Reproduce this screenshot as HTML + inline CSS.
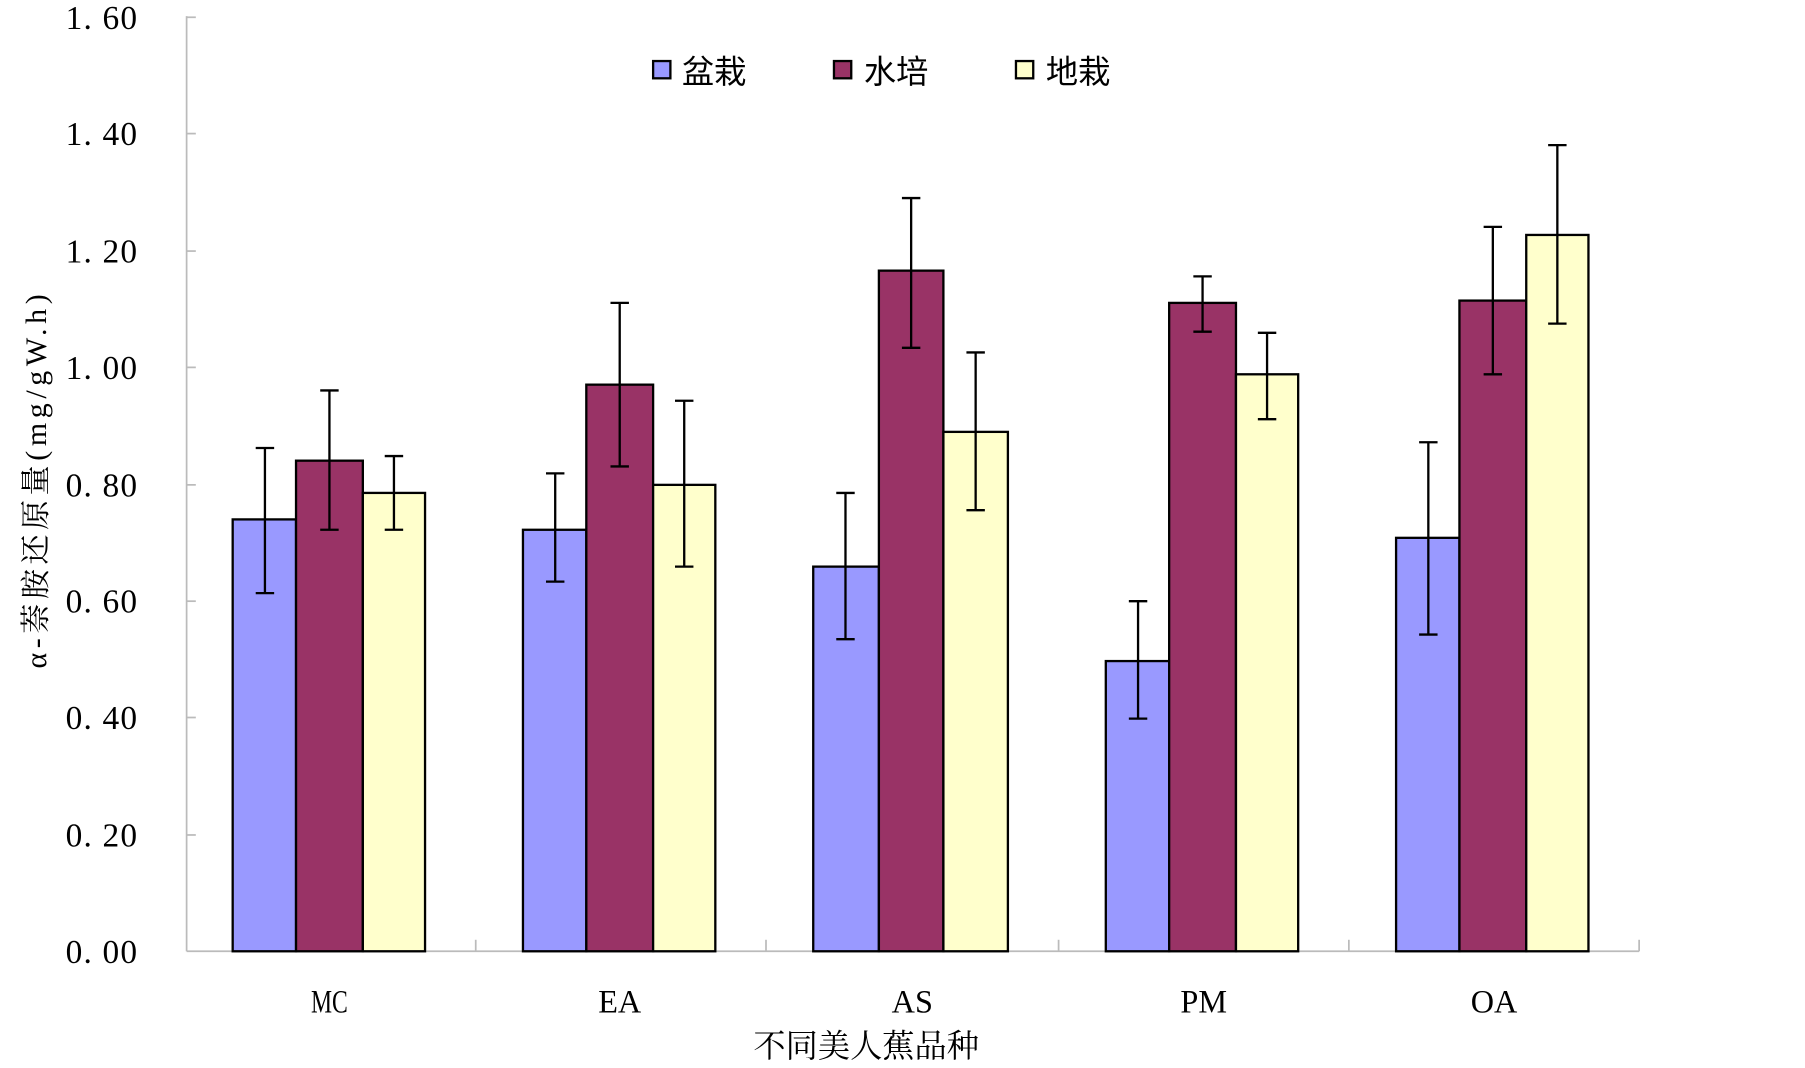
<!DOCTYPE html>
<html><head><meta charset="utf-8"><style>html,body{margin:0;padding:0;background:#fff;overflow:hidden}</style></head>
<body>
<svg width="1805" height="1063" viewBox="0 0 1567 923" preserveAspectRatio="none" xmlns="http://www.w3.org/2000/svg" font-family="'Liberation Serif','Noto Serif CJK SC',serif">
<g stroke="#bbb" stroke-width="1.5" fill="none">
<line x1="162" y1="14" x2="162" y2="826"/>
<line x1="162" y1="826" x2="1423" y2="826"/>
<line x1="162" y1="15" x2="170" y2="15"/><line x1="162" y1="116" x2="170" y2="116"/><line x1="162" y1="218" x2="170" y2="218"/><line x1="162" y1="319" x2="170" y2="319"/><line x1="162" y1="421" x2="170" y2="421"/><line x1="162" y1="522" x2="170" y2="522"/><line x1="162" y1="623" x2="170" y2="623"/><line x1="162" y1="725" x2="170" y2="725"/>
<line x1="413" y1="816" x2="413" y2="826"/><line x1="665" y1="816" x2="665" y2="826"/><line x1="919" y1="816" x2="919" y2="826"/><line x1="1171" y1="816" x2="1171" y2="826"/><line x1="1423" y1="816" x2="1423" y2="826"/>
</g>
<g font-size="29" text-anchor="end" fill="#000" letter-spacing="1">
<text x="120" y="25">1. 60</text><text x="120" y="126">1. 40</text><text x="120" y="228">1. 20</text><text x="120" y="329">1. 00</text><text x="120" y="431">0. 80</text><text x="120" y="532">0. 60</text><text x="120" y="633">0. 40</text><text x="120" y="735">0. 20</text><text x="120" y="836">0. 00</text>
</g>
<g stroke="#000" stroke-width="2">
<rect x="202" y="451" width="55" height="375" fill="#9999FF"/><rect x="257" y="400" width="58" height="426" fill="#993366"/><rect x="315" y="428" width="54" height="398" fill="#FFFFCC"/>
<rect x="454" y="460" width="55" height="366" fill="#9999FF"/><rect x="509" y="334" width="58" height="492" fill="#993366"/><rect x="567" y="421" width="54" height="405" fill="#FFFFCC"/>
<rect x="706" y="492" width="57" height="334" fill="#9999FF"/><rect x="763" y="235" width="56" height="591" fill="#993366"/><rect x="819" y="375" width="56" height="451" fill="#FFFFCC"/>
<rect x="960" y="574" width="55" height="252" fill="#9999FF"/><rect x="1015" y="263" width="58" height="563" fill="#993366"/><rect x="1073" y="325" width="54" height="501" fill="#FFFFCC"/>
<rect x="1212" y="467" width="55" height="359" fill="#9999FF"/><rect x="1267" y="261" width="58" height="565" fill="#993366"/><rect x="1325" y="204" width="54" height="622" fill="#FFFFCC"/>
</g>
<g stroke="#000" stroke-width="2" fill="none">
<path d="M230 389V515M222 389H238M222 515H238"/>
<path d="M286 339V460M278 339H294M278 460H294"/>
<path d="M342 396V460M334 396H350M334 460H350"/>
<path d="M482 411V505M474 411H490M474 505H490"/>
<path d="M538 263V405M530 263H546M530 405H546"/>
<path d="M594 348V492M586 348H602M586 492H602"/>
<path d="M734 428V555M726 428H742M726 555H742"/>
<path d="M791 172V302M783 172H799M783 302H799"/>
<path d="M847 306V443M839 306H855M839 443H855"/>
<path d="M988 522V624M980 522H996M980 624H996"/>
<path d="M1044 240V288M1036 240H1052M1036 288H1052"/>
<path d="M1100 289V364M1092 289H1108M1092 364H1108"/>
<path d="M1240 384V551M1232 384H1248M1232 551H1248"/>
<path d="M1296 197V325M1288 197H1304M1288 325H1304"/>
<path d="M1352 126V281M1344 126H1360M1344 281H1360"/>
</g>
<g stroke="#000" stroke-width="2">
<rect x="567" y="53" width="15" height="15" fill="#9999FF"/>
<rect x="724" y="53" width="15" height="15" fill="#993366"/>
<rect x="882" y="53" width="15" height="15" fill="#FFFFCC"/>
</g>
<g font-size="28" fill="#000" font-family="'Liberation Sans','Noto Sans CJK SC',sans-serif">
<text x="592" y="72">盆栽</text><text x="750" y="72">水培</text><text x="908" y="72">地栽</text>
</g>
<g font-size="28" text-anchor="middle" fill="#000">
<text x="286" y="879" textLength="32" lengthAdjust="spacingAndGlyphs">MC</text><text x="538" y="879">EA</text><text x="792" y="879">AS</text><text x="1045" y="879">PM</text><text x="1297" y="879">OA</text>
<text x="752" y="918" font-size="28">不同美人蕉品种</text>
<text transform="translate(40,418) rotate(-90)" font-size="26" textLength="325" lengthAdjust="spacing">α-萘胺还原量(mg/gW.h)</text>
</g>
</svg>
</body></html>
